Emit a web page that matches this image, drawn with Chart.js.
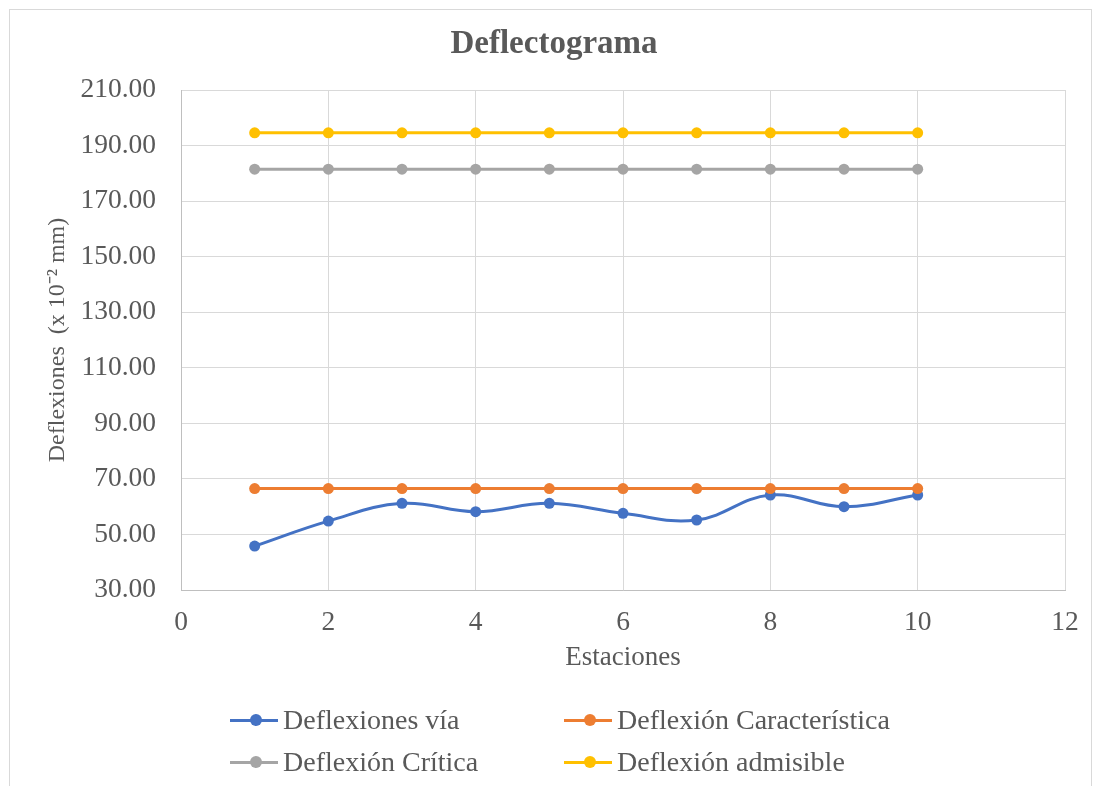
<!DOCTYPE html>
<html>
<head>
<meta charset="utf-8">
<script src="https://cdn.jsdelivr.net/npm/chart.js@4.4.0/dist/chart.umd.min.js"></script>
<style>
  html, body { margin: 0; padding: 0; background: #ffffff; }
  #wrap { position: relative; width: 1103px; height: 786px; overflow: hidden; background: #fff; }
  #frame { position: absolute; left: 9px; top: 9px; width: 1083px; height: 800px; border: 1px solid #d9d9d9; box-sizing: border-box; }
  #c { position: absolute; left: 0; top: 0; }
  #legend { position: absolute; left: 0; top: 0; width: 1103px; height: 786px; pointer-events: none; font-family: "Liberation Serif", "Times New Roman", serif; font-size: 28px; color: #595959; }
  .item { position: absolute; display: flex; align-items: center; height: 32px; transform: translateY(-50%); white-space: nowrap; }
  .sym { position: relative; width: 48px; height: 32px; margin-right: 5px; }
  .sym .ln { position: absolute; left: 0; right: 0; top: 14.5px; height: 3px; }
  .sym .pt { position: absolute; left: 20px; top: 10px; width: 12px; height: 12px; border-radius: 50%; }
</style>
</head>
<body>
<div id="wrap">
  <div id="frame"></div>
  <canvas id="c" width="1103" height="786"></canvas>
  <div id="legend"></div>
</div>
<script>
const stations = [1, 2, 3, 4, 5, 6, 7, 8, 9, 10];
const deflexionesVia = [45.8, 54.8, 61.2, 58.2, 61.2, 57.6, 55.2, 64.2, 60.0, 64.2];
const deflexionCaracteristica = [66.5, 66.5, 66.5, 66.5, 66.5, 66.5, 66.5, 66.5, 66.5, 66.5];
const deflexionCritica = [181.5, 181.5, 181.5, 181.5, 181.5, 181.5, 181.5, 181.5, 181.5, 181.5];
const deflexionAdmisible = [194.6, 194.6, 194.6, 194.6, 194.6, 194.6, 194.6, 194.6, 194.6, 194.6];
const seriesNames = ["Deflexiones vía", "Deflexión Característica", "Deflexión Crítica", "Deflexión admisible"];
const seriesColors = ["#4472C4", "#ED7D31", "#A5A5A5", "#FFC000"];
const xTickValues = [0, 2, 4, 6, 8, 10, 12];
const yTickValues = [30, 50, 70, 90, 110, 130, 150, 170, 190, 210];

const FONT = '"Liberation Serif", "Times New Roman", serif';
const TXT = '#595959';

function pts(vals) { return stations.map((s, i) => ({ x: s, y: vals[i] })); }
const allSeries = [deflexionesVia, deflexionCaracteristica, deflexionCritica, deflexionAdmisible];

const datasets = allSeries.map((vals, i) => ({
  label: seriesNames[i],
  data: pts(vals),
  borderColor: seriesColors[i],
  backgroundColor: seriesColors[i],
  pointBackgroundColor: seriesColors[i],
  pointBorderColor: seriesColors[i],
  borderWidth: 3,
  pointRadius: 5.5,
  pointBorderWidth: 0,
  tension: i === 0 ? 0.4 : 0,
  fill: false,
  order: 4 - i
}));

new Chart(document.getElementById('c'), {
  type: 'line',
  data: { datasets },
  options: {
    responsive: false,
    animation: false,
    events: [],
    layout: { padding: { top: 0, left: 43, right: 38, bottom: 112 } },
    plugins: {
      legend: { display: false },
      tooltip: { enabled: false },
      title: {
        display: true,
        text: 'Deflectograma',
        color: TXT,
        font: { family: FONT, size: 33, weight: 'bold', lineHeight: 1.2 },
        padding: { top: 25, bottom: 25.4 }
      }
    },
    scales: {
      x: {
        type: 'linear',
        min: 0, max: 12,
        afterBuildTicks: (ax) => { ax.ticks = xTickValues.map(v => ({ value: v })); },
        afterFit: (ax) => { ax.height = 84; },
        grid: { color: '#d9d9d9', lineWidth: 1, drawTicks: false },
        border: { color: '#bfbfbf', width: 1 },
        ticks: { color: TXT, font: { family: FONT, size: 27.5 }, padding: 16, maxRotation: 0 },
        title: { display: true, text: 'Estaciones', color: TXT, font: { family: FONT, size: 27, lineHeight: 1.2 }, padding: 0 }
      },
      y: {
        type: 'linear',
        min: 30, max: 210,
        afterBuildTicks: (ax) => { ax.ticks = yTickValues.map(v => ({ value: v })); },
        afterFit: (ax) => { ax.width = 138; },
        grid: { color: '#d9d9d9', lineWidth: 1, drawTicks: false },
        border: { color: '#bfbfbf', width: 1 },
        ticks: { color: TXT, font: { family: FONT, size: 27.5 }, padding: 25, callback: (v) => Number(v).toFixed(2) },
        title: { display: true, text: 'Deflexiones  (x 10⁻² mm)', color: TXT, font: { family: FONT, size: 24, lineHeight: 1.2 }, padding: 0 }
      }
    }
  }
});

// HTML legend (2 x 2) built from the series
const legendPos = [
  { left: 230, top: 720 },
  { left: 564, top: 720 },
  { left: 230, top: 762 },
  { left: 564, top: 762 }
];
const leg = document.getElementById('legend');
seriesNames.forEach((name, i) => {
  const it = document.createElement('div');
  it.className = 'item';
  it.style.left = legendPos[i].left + 'px';
  it.style.top = legendPos[i].top + 'px';
  it.innerHTML = '<div class="sym"><div class="ln" style="background:' + seriesColors[i] + '"></div><div class="pt" style="background:' + seriesColors[i] + '"></div></div><span>' + name + '</span>';
  leg.appendChild(it);
});
</script>
</body>
</html>
